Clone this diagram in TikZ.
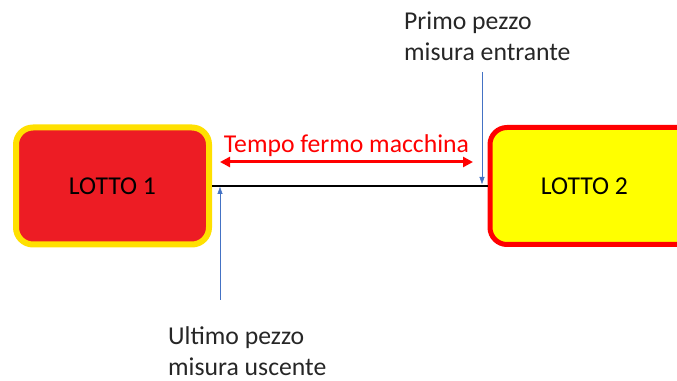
\documentclass[tikz,border=0pt]{standalone}
\usepackage{fontspec}
\setmainfont{Carlito}
\usepackage{tikz}
\usetikzlibrary{arrows.meta}
\usetikzlibrary{calc,positioning}

\definecolor{lottored}{HTML}{ED1C24}
\definecolor{lottogold}{HTML}{FFE000}
\definecolor{lottoyellow}{HTML}{FFFF00}
\definecolor{noteblue}{HTML}{4472C4}
\definecolor{notegray}{HTML}{262626}

\begin{document}
\begin{tikzpicture}[x=1pt, y=1pt, >=Triangle,
    lotto/.style={rounded corners=17pt, minimum height=117pt, font=\fontsize{25.7}{31}\selectfont},
    note/.style={inner sep=0pt, align=left, text=notegray, font=\fontsize{25.7}{31}\selectfont}]

    \useasboundingbox (0,0) rectangle (677,380);
    \clip (0,0) rectangle (677,380);

    \node[lotto, draw=lottogold, fill=lottored, line width=6pt, minimum width=193pt] (L1) at (112.5,194) {LOTTO 1};
    \node[lotto, draw=red, fill=lottoyellow, line width=5pt, minimum width=205pt] (L2) at (592.5,194) {};
    \node[lotto] (T2) at (584.5,194) {LOTTO 2};

    \draw[line width=2pt] (L1) -- (L2);

    % tempo fermo
    \coordinate (TL) at (220,218);
    \coordinate (TR) at (473,218);
    \draw[red, line width=3pt, {Triangle[length=10pt,width=10pt]}-{Triangle[length=10pt,width=10pt]}] (TL) -- (TR) node[midway, above=1pt, text=red, font=\fontsize{25.7}{31}\selectfont] (tempo) {Tempo fermo macchina};

    % pezzi
    \node[note, anchor=north west] (ultimo) at (168,54) {Ultimo pezzo\\misura uscente};
    \node[note, anchor=north west] (primo) at (404,368) {Primo pezzo\\misura entrante};

    \coordinate (U0) at (220,80);
    \coordinate (U1) at (220,193);
    \coordinate (P0) at (482,308);
    \coordinate (P1) at (482,196);
    \draw[noteblue, {Triangle[length=7pt,width=5pt]}-] (U1) -- (U0);
    \draw[noteblue, ->, >={Triangle[length=7pt,width=5pt]}] (P0) -- (P1);

\end{tikzpicture}
\end{document}
